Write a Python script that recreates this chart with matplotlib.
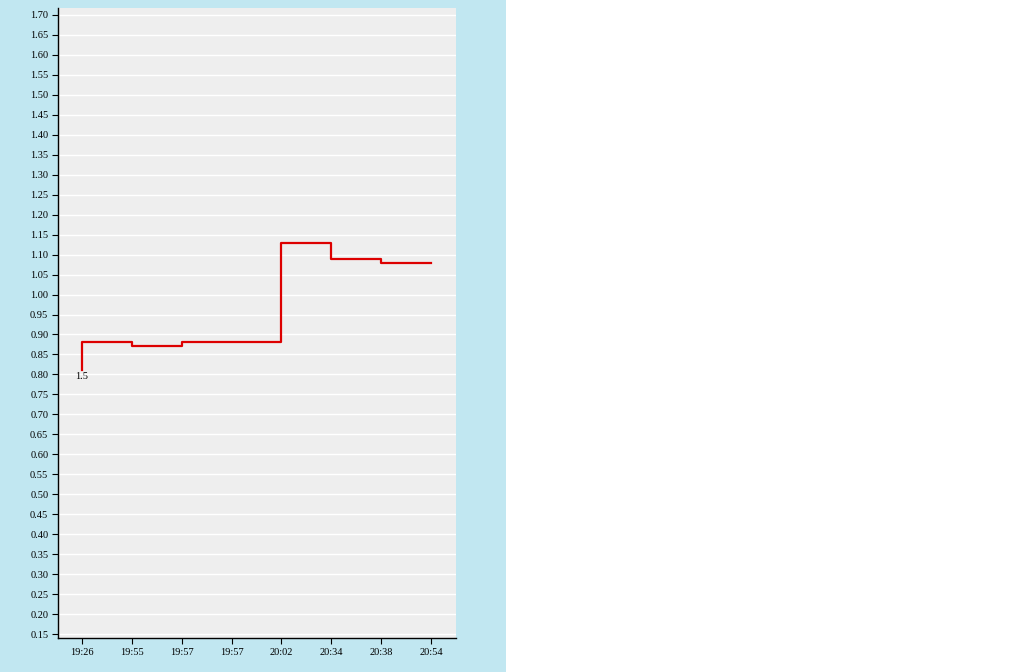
import matplotlib
matplotlib.use("Agg")
import matplotlib.pyplot as plt
from matplotlib.patches import Rectangle
import numpy as np

times = ["19:26", "19:55", "19:57", "19:57", "20:02", "20:34", "20:38", "20:54"]
values = [0.81, 0.88, 0.87, 0.88, 0.88, 1.13, 1.09, 1.08]
first_label = "1.5"
yticks = [round(0.15 + 0.05 * i, 2) for i in range(32)]

fig = plt.figure(figsize=(10.11, 6.72), dpi=100)
fig.patches.append(Rectangle((0, 0), 506 / 1011, 1, transform=fig.transFigure,
                             facecolor="#c1e7f1", edgecolor="none", zorder=-10))
ax = fig.add_axes([58 / 1011, 34 / 672, 398 / 1011, 630 / 672])
ax.set_facecolor("#eeeeee")
x = np.arange(len(times))
ax.step(x, values, where="pre", color="#dd0000", lw=1.6, zorder=3)
ax.text(x[0], values[0] - 0.005, first_label, ha="center", va="top",
        fontsize=7.5, family="Liberation Serif")
ax.set_xlim(-0.48, 7.5)
ax.set_ylim(0.14, 1.7175)
ax.set_yticks(yticks)
ax.set_yticklabels([f"{v:.2f}" for v in yticks], fontsize=7.5, family="Liberation Serif")
ax.set_xticks(x)
ax.set_xticklabels(times, fontsize=7.5, family="Liberation Serif")
ax.yaxis.grid(True, color="white", lw=1)
ax.set_axisbelow(True)
for s in ["top", "right"]:
    ax.spines[s].set_visible(False)
for s in ["left", "bottom"]:
    ax.spines[s].set_color("black")
    ax.spines[s].set_linewidth(1)
ax.tick_params(length=4, width=0.8, color="black", pad=3)
fig.savefig("out.png", dpi=100)
